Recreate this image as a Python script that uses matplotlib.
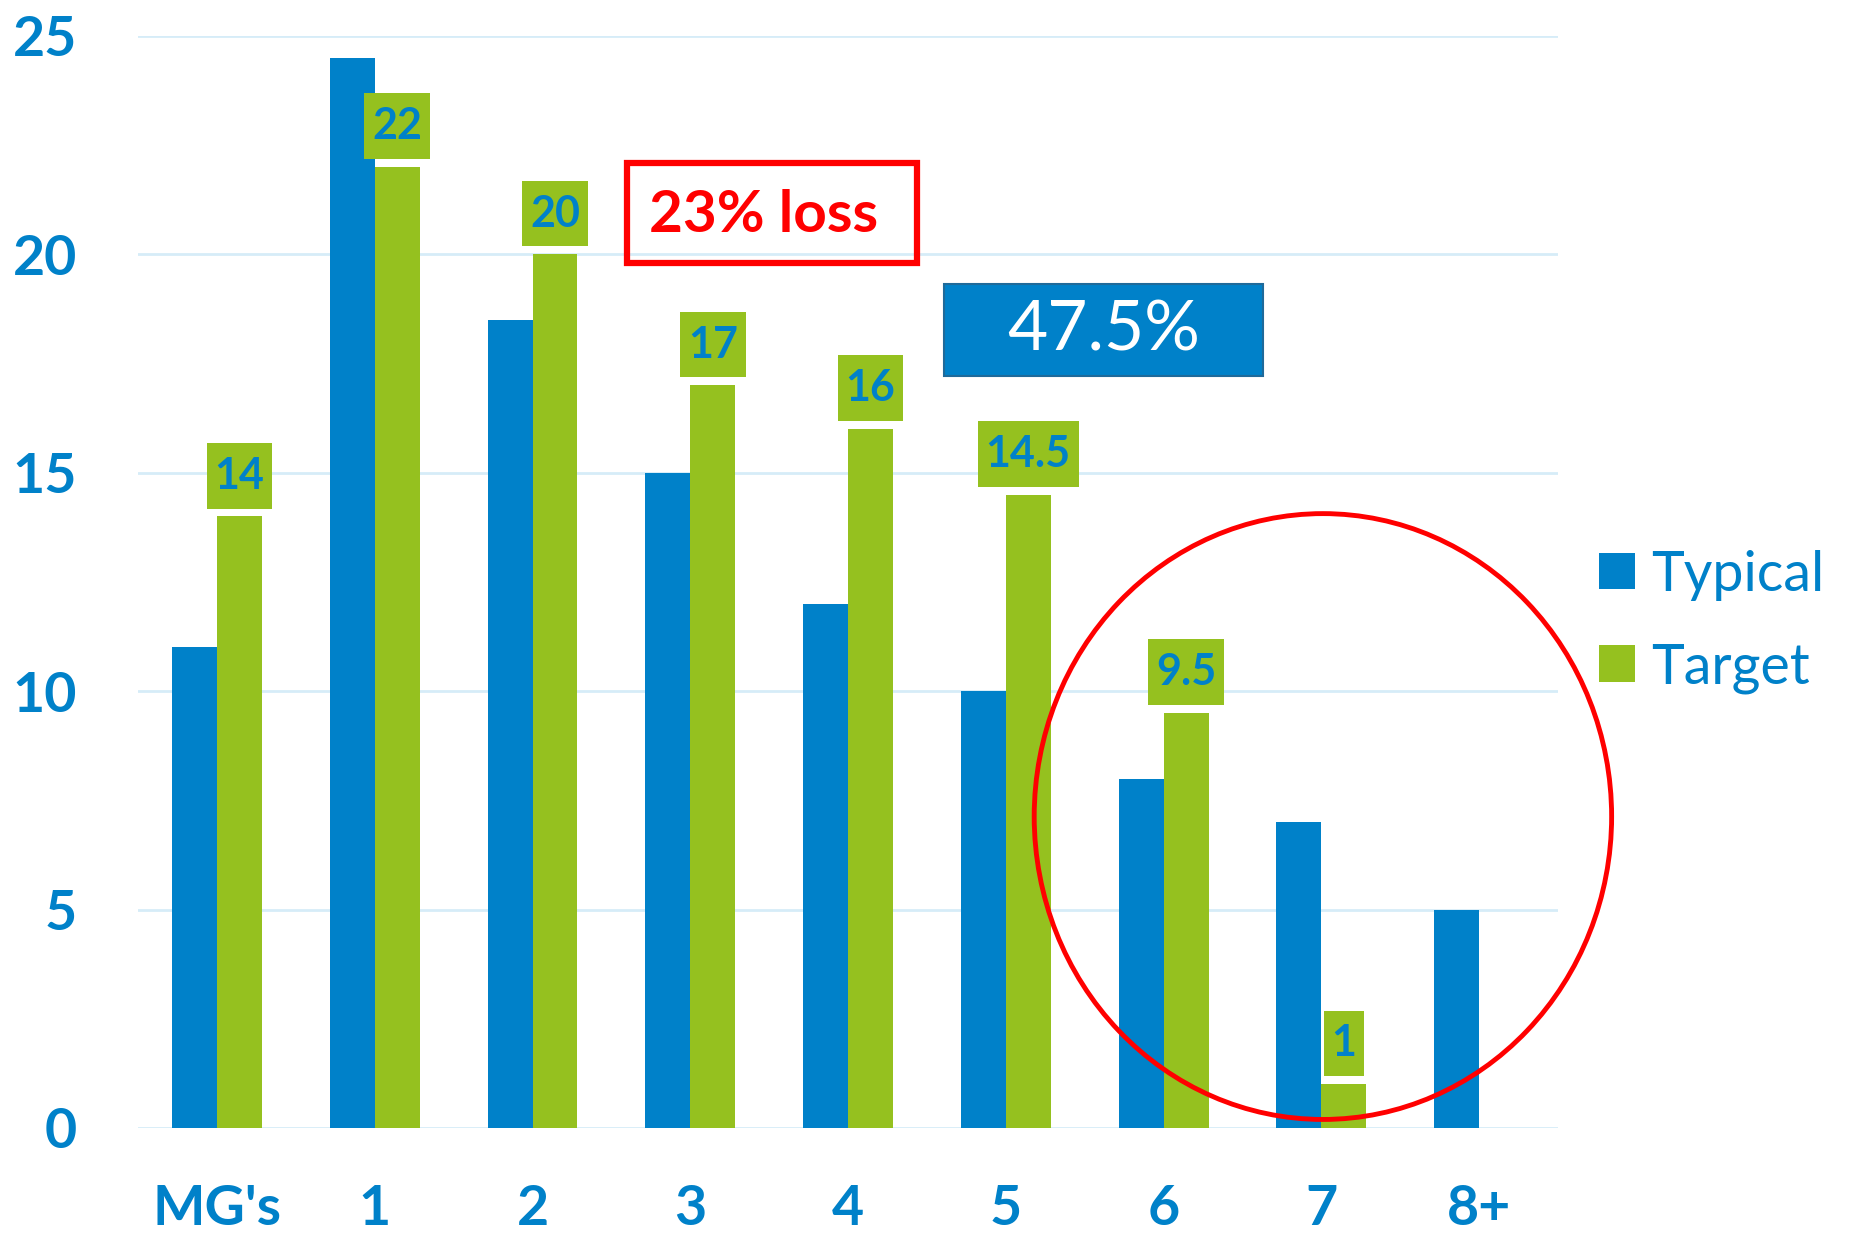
import numpy as np
import matplotlib.pyplot as plt
from matplotlib.patches import Ellipse, Rectangle
from matplotlib.path import Path

BLUE = "#0081C9"
GREEN = "#95C11F"
GRID = "#D6ECF8"

plt.rcParams["font.family"] = ["Lato", "DejaVu Sans"]

categories = ["MG's", "1", "2", "3", "4", "5", "6", "7", "8+"]
typical = [11, 24.5, 18.5, 15, 12, 10, 8, 7, 5]
target = [14, 22, 20, 17, 16, 14.5, 9.5, 1, np.nan]
target_labels = ["14", "22", "20", "17", "16", "14.5", "9.5", "1", None]
y_ticks = [0, 5, 10, 15, 20, 25]

loss_text = "23% loss"
share_text = "47.5%"


def label_box(x0, y0, width, height, mutation_size):
    # square box, more padding top/bottom than left/right
    px = 0.18 * mutation_size
    py = 0.30 * mutation_size
    x0, y0 = x0 - px, y0 - py
    x1, y1 = x0 + width + 2 * px, y0 + height + 2 * py
    return Path([(x0, y0), (x1, y0), (x1, y1), (x0, y1), (x0, y0)], closed=True)


def main():
    fig = plt.figure(figsize=(18.51, 12.36), dpi=100)
    ax = fig.add_axes([0.0746, 0.0874, 0.7671, 0.8835])

    x = np.arange(len(categories))
    width = 0.285
    ax.bar(x - width / 2, typical, width, color=BLUE, label="Typical", zorder=3)
    ax.bar(x + width / 2, target, width, color=GREEN, label="Target", zorder=3)

    # value boxes above the green bars
    for xi, val, lab in zip(x, target, target_labels):
        if lab is None:
            continue
        ax.annotate(lab, (xi + width / 2, val), xytext=(0, 15), textcoords="offset points",
                    ha="center", va="bottom", fontsize=31, fontweight="bold", color=BLUE,
                    bbox=dict(boxstyle=label_box, fc=GREEN, ec="none"), zorder=4)

    ax.set_xlim(-0.5, len(categories) - 0.5)
    ax.set_ylim(0, 25)
    ax.set_yticks(y_ticks)
    ax.set_xticks(x)
    ax.set_xticklabels(categories)
    ax.yaxis.grid(True, color=GRID, lw=2, zorder=0)
    ax.set_axisbelow(True)
    for s in ax.spines.values():
        s.set_visible(False)
    ax.tick_params(axis="both", length=0, labelcolor=BLUE, labelsize=40)
    ax.tick_params(axis="y", pad=44)
    ax.tick_params(axis="x", pad=40)
    for t in ax.get_xticklabels() + ax.get_yticklabels():
        t.set_fontweight("bold")

    # "23% loss" callout
    ax.add_patch(Rectangle((2.60, 19.80), 1.84, 2.29, fill=False, ec="red", lw=4.5,
                           zorder=5, clip_on=False))
    ax.text(2.74, 20.9, loss_text, ha="left", va="center", fontsize=42,
            fontweight="bold", color="red", zorder=6)

    # "47.5%" callout
    ax.add_patch(Rectangle((4.61, 17.22), 2.02, 2.10, fc=BLUE, ec="#1F6A9A", lw=1.5,
                           zorder=5, clip_on=False))
    ax.text(5.62, 18.25, share_text, ha="center", va="center", fontsize=50,
            color="white", zorder=6)

    ax.add_patch(Ellipse((7.01, 7.13), 3.66, 13.87, fill=False, ec="red", lw=3.5,
                         zorder=6, clip_on=False))

    leg = ax.legend(loc="center left", bbox_to_anchor=(0.8639, 0.497),
                    bbox_transform=fig.transFigure, frameon=False, fontsize=40,
                    handlelength=0.64, handleheight=0.64, handletextpad=0.3,
                    labelspacing=0.75, borderpad=0, borderaxespad=0)
    for t in leg.get_texts():
        t.set_color(BLUE)

    fig.savefig("out.png", dpi=100)


if __name__ == "__main__":
    main()
